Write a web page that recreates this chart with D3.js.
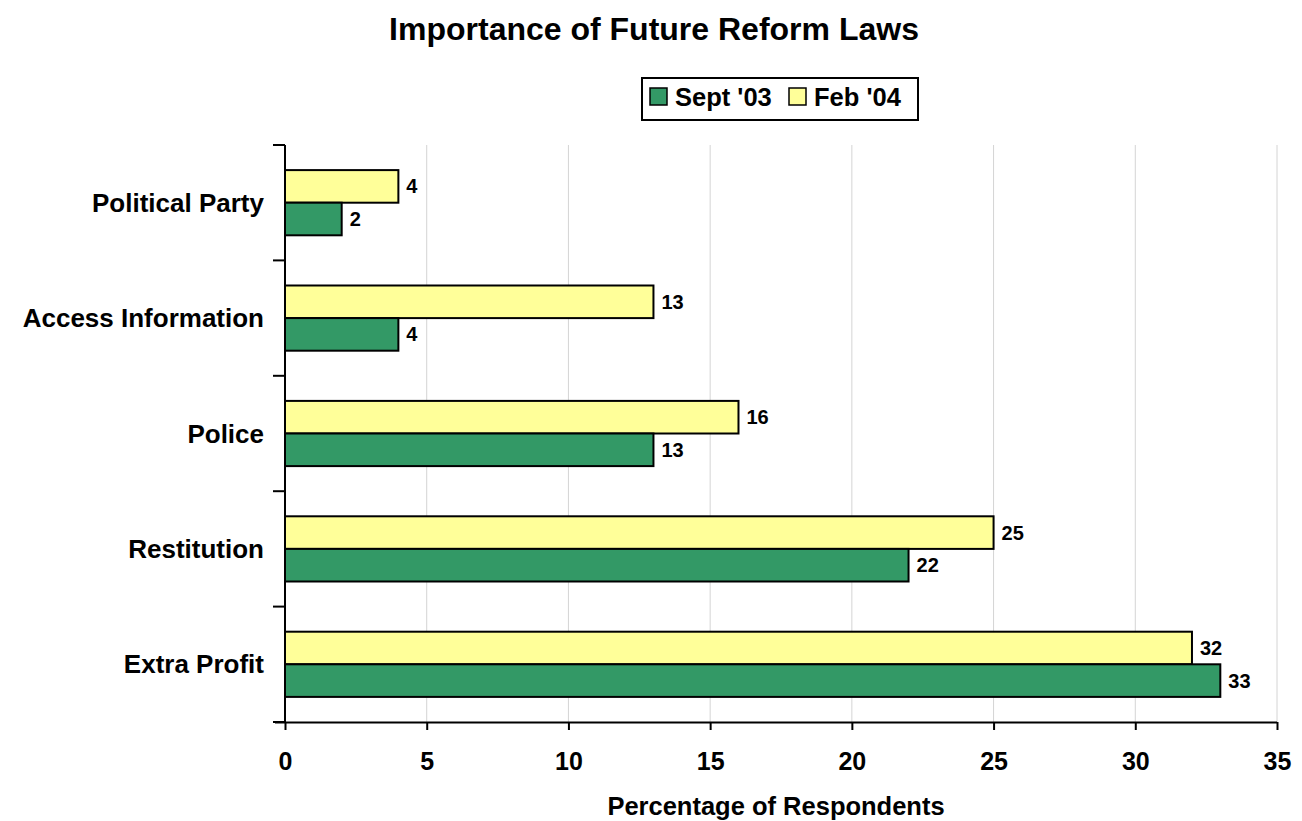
<!DOCTYPE html>
<html>
<head>
<meta charset="utf-8">
<script src="https://cdn.jsdelivr.net/npm/d3@7"></script>
<style>
  body { margin: 0; background: #fff; }
  svg text { font-family: "Liberation Sans", Arial, sans-serif; font-weight: bold; fill: #000; }
</style>
</head>
<body>
<svg id="chart" width="1302" height="821"></svg>
<script>
// Categories, top to bottom
const categories = ["Political Party", "Access Information", "Police", "Restitution", "Extra Profit"];
const seriesNames = ["Feb '04", "Sept '03"];
const feb04 = [4, 13, 16, 25, 32];
const sept03 = [2, 4, 13, 22, 33];
const xTicks = [0, 5, 10, 15, 20, 25, 30, 35];

const colors = { "Sept '03": "#339966", "Feb '04": "#FFFF99" };

const svg = d3.select("#chart");
const plotLeft = 285, plotRight = 1277, plotTop = 145, plotBottom = 722;

const x = d3.scaleLinear().domain([0, 35]).range([plotLeft, plotRight]);
const y = d3.scaleBand().domain(categories).range([plotTop, plotBottom]).paddingInner(0.435).paddingOuter(0.2175);
const ySub = d3.scaleBand().domain(seriesNames).range([0, y.bandwidth()]);

// Vertical gridlines
svg.append("g").selectAll("line").data(xTicks.filter(d => d > 0)).join("line")
  .attr("x1", d => x(d)).attr("x2", d => x(d))
  .attr("y1", plotTop).attr("y2", plotBottom)
  .attr("stroke", "#d4d4d4").attr("stroke-width", 1);

// Bars
const rows = categories.map((c, i) => ({ cat: c, values: [
  { name: "Feb '04", value: feb04[i] },
  { name: "Sept '03", value: sept03[i] }
]}));

const groups = svg.append("g").selectAll("g").data(rows).join("g")
  .attr("transform", d => `translate(0,${y(d.cat)})`);

groups.selectAll("rect").data(d => d.values).join("rect")
  .attr("x", x(0))
  .attr("y", d => ySub(d.name))
  .attr("width", d => x(d.value) - x(0))
  .attr("height", ySub.bandwidth())
  .attr("fill", d => colors[d.name])
  .attr("stroke", "#000").attr("stroke-width", 2);

groups.selectAll("text").data(d => d.values).join("text")
  .attr("x", d => x(d.value) + 8)
  .attr("y", d => ySub(d.name) + ySub.bandwidth() / 2)
  .attr("dy", "0.35em")
  .attr("font-size", 20)
  .text(d => d.value);

// X axis
const xAxis = svg.append("g").attr("transform", `translate(0,${plotBottom})`)
  .call(d3.axisBottom(x).tickValues(xTicks).tickSize(8).tickPadding(22));
xAxis.select(".domain").attr("d", `M${plotLeft - 10},0.5H${plotRight}`).attr("stroke", "#000").attr("stroke-width", 2);
xAxis.selectAll(".tick line").attr("stroke", "#000").attr("stroke-width", 2);
xAxis.selectAll(".tick text").attr("font-size", 25).attr("font-family", "Liberation Sans, Arial, sans-serif").attr("font-weight", "bold");

// Y axis: ticks at band boundaries
const yBounds = d3.range(categories.length + 1).map(i => plotTop + i * (plotBottom - plotTop) / categories.length);
svg.append("line").attr("x1", plotLeft).attr("x2", plotLeft).attr("y1", plotTop).attr("y2", plotBottom)
  .attr("stroke", "#000").attr("stroke-width", 2);
svg.append("g").selectAll("line").data(yBounds).join("line")
  .attr("x1", plotLeft - 12).attr("x2", plotLeft).attr("y1", d => d).attr("y2", d => d)
  .attr("stroke", "#000").attr("stroke-width", 2);

svg.append("g").selectAll("text").data(categories).join("text")
  .attr("x", plotLeft - 21)
  .attr("y", d => y(d) + y.bandwidth() / 2)
  .attr("dy", "0.35em")
  .attr("text-anchor", "end")
  .attr("font-size", 26)
  .text(d => d);

// Title
svg.append("text").attr("x", 654).attr("y", 40).attr("text-anchor", "middle")
  .attr("font-size", 32).text("Importance of Future Reform Laws");

// Axis title
svg.append("text").attr("x", 776).attr("y", 815).attr("text-anchor", "middle")
  .attr("font-size", 25.5).text("Percentage of Respondents");

// Legend
const legend = svg.append("g");
legend.append("rect").attr("x", 642).attr("y", 78).attr("width", 276).attr("height", 42)
  .attr("fill", "#fff").attr("stroke", "#000").attr("stroke-width", 2);
const legendItems = [
  { name: "Sept '03", x: 650 },
  { name: "Feb '04", x: 789 }
];
legendItems.forEach(it => {
  legend.append("rect").attr("x", it.x).attr("y", 88).attr("width", 17).attr("height", 17)
    .attr("fill", colors[it.name]).attr("stroke", "#000").attr("stroke-width", 1.5);
  legend.append("text").attr("x", it.x + 25).attr("y", 106)
    .attr("font-size", 25.5).text(it.name);
});
</script>
</body>
</html>
